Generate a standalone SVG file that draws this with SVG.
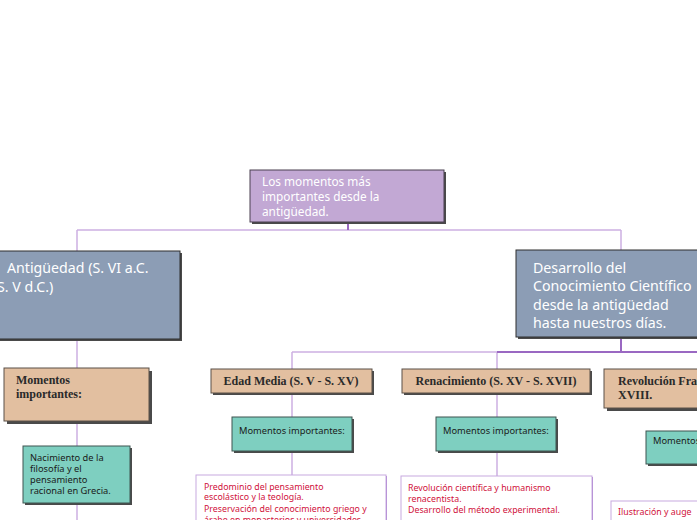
<svg xmlns="http://www.w3.org/2000/svg" width="697" height="520" viewBox="0 0 697 520">
<style>
.sh{fill:#4a4a4a}
.root{fill:#c2a8d4;stroke:#4a4050;stroke-width:1}
.blue{fill:#8c9db5;stroke:#2f2f2f;stroke-width:1}
.brown{fill:#e2bfa0;stroke:#5a5048;stroke-width:1}
.teal{fill:#7ecfc0;stroke:#3f5550;stroke-width:1}
.white{fill:#ffffff;stroke:#c7a9e0;stroke-width:1}
.wsh{fill:#a97fce}
.tw{font-family:"Noto Sans","Open Sans",sans-serif;fill:#ffffff}
.tb{font-family:"Liberation Serif","DejaVu Serif",serif;font-weight:bold;fill:#2a2a2a;font-size:12px}
.tt{font-family:"Noto Sans","Open Sans",sans-serif;fill:#1a1a1a;font-size:9.3px}
.tr{font-family:"Noto Sans","Open Sans",sans-serif;fill:#d0113b;font-size:8.8px}
.c{fill:none;stroke:#cdb0e2;stroke-width:1.5}
.cd{fill:none;stroke:#9a68c2;stroke-width:2}
</style>
<rect width="697" height="520" fill="#ffffff"/>
<g id="connectors">
<path class="c" d="M77,230 H621 M77,230 V251 M621,230 V250"/>
<path class="cd" d="M348,222 V230"/>
<path class="c" d="M77,339 V368 M77,421 V446 M77,503 V520"/>
<path class="c" d="M292,352 H497 M292,352 V369 M497,352 V369"/>
<path class="cd" d="M497,352 H697 M621,337 V352"/>
<path class="c" d="M292,393 V417 M292,451 V475 M497,393 V417 M497,451 V476"/>
</g>
<g id="root">
<rect class="sh" x="252" y="172" width="194" height="52"/>
<rect class="root" x="250" y="170" width="194" height="52"/>
<text class="tw" font-size="11.8" x="262"><tspan x="262" y="186">Los momentos más</tspan><tspan x="262" y="201">importantes desde la</tspan><tspan x="262" y="216">antigüedad.</tspan></text>
</g>
<g id="antiguedad">
<rect class="sh" x="-20" y="253" width="202" height="88"/>
<rect class="blue" x="-20" y="251" width="200" height="88"/>
<text class="tw" font-size="14.2"><tspan x="7" y="273">Antigüedad (S. VI a.C.</tspan><tspan x="-3" y="292">S. V d.C.)</tspan></text>
</g>
<g id="desarrollo">
<rect class="sh" x="518" y="252" width="200" height="87"/>
<rect class="blue" x="516" y="250" width="200" height="87"/>
<text class="tw" font-size="14.2"><tspan x="533" y="273">Desarrollo del</tspan><tspan x="533" y="291">Conocimiento Científico</tspan><tspan x="533" y="310">desde la antigüedad</tspan><tspan x="533" y="328">hasta nuestros días.</tspan></text>
</g>
<g id="momentos-antiguedad">
<rect class="sh" x="7" y="371" width="145" height="53"/>
<rect class="brown" x="4" y="368" width="145" height="53"/>
<text class="tb"><tspan x="16" y="384">Momentos</tspan><tspan x="16" y="398">importantes:</tspan></text>
</g>
<g id="nacimiento">
<rect class="sh" x="25" y="448" width="107" height="57"/>
<rect class="teal" x="23" y="446" width="107" height="57"/>
<text class="tt"><tspan x="30" y="461">Nacimiento de la</tspan><tspan x="30" y="472">filosofía y el</tspan><tspan x="30" y="483">pensamiento</tspan><tspan x="30" y="494">racional en Grecia.</tspan></text>
</g>
<g id="edad-media">
<rect class="sh" x="213" y="371" width="161" height="24"/>
<rect class="brown" x="211" y="369" width="161" height="24"/>
<text class="tb" x="291" y="385" text-anchor="middle">Edad Media (S. V - S. XV)</text>
</g>
<g id="momentos-edad-media">
<rect class="sh" x="234" y="419" width="120" height="34"/>
<rect class="teal" x="232" y="417" width="120" height="34"/>
<text class="tt" x="239" y="434">Momentos importantes:</text>
</g>
<g id="predominio">
<rect class="wsh" x="384" y="476" width="3" height="50"/>
<rect class="white" x="196" y="475" width="190" height="50"/>
<text class="tr"><tspan x="204" y="490">Predominio del pensamiento</tspan><tspan x="204" y="500">escolástico y la teología.</tspan><tspan x="204" y="512">Preservación del conocimiento griego y</tspan><tspan x="204" y="523">árabe en monasterios y universidades.</tspan></text>
</g>
<g id="renacimiento">
<rect class="sh" x="404" y="371" width="188" height="24"/>
<rect class="brown" x="402" y="369" width="188" height="24"/>
<text class="tb" x="496" y="385" text-anchor="middle">Renacimiento (S. XV - S. XVII)</text>
</g>
<g id="momentos-renacimiento">
<rect class="sh" x="438" y="419" width="120" height="34"/>
<rect class="teal" x="436" y="417" width="120" height="34"/>
<text class="tt" x="443" y="434">Momentos importantes:</text>
</g>
<g id="revolucion-cientifica">
<rect class="wsh" x="590" y="477" width="3" height="50"/>
<rect class="white" x="401" y="476" width="191" height="50"/>
<text class="tr"><tspan x="408" y="491">Revolución científica y humanismo</tspan><tspan x="408" y="502">renacentista.</tspan><tspan x="408" y="513">Desarrollo del método experimental.</tspan></text>
</g>
<g id="revolucion-francesa">
<rect class="sh" x="607" y="372" width="120" height="39"/>
<rect class="brown" x="604" y="369" width="120" height="39"/>
<text class="tb"><tspan x="618" y="385">Revolución Francesa</tspan><tspan x="618" y="399">XVIII.</tspan></text>
</g>
<g id="momentos-revolucion">
<rect class="sh" x="648" y="433" width="80" height="33"/>
<rect class="teal" x="646" y="431" width="80" height="33"/>
<text class="tt" x="653" y="444">Momentos importantes:</text>
</g>
<g id="ilustracion">
<rect class="white" x="611" y="501" width="120" height="40"/>
<text class="tr" x="618" y="515">Ilustración y auge</text>
</g>
</svg>
